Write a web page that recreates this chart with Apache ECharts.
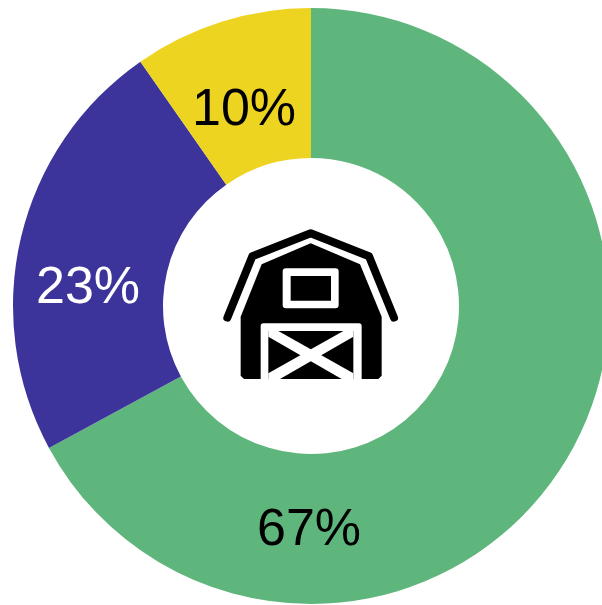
<!DOCTYPE html>
<html>
<head>
<meta charset="utf-8">
<style>
  html, body { margin: 0; padding: 0; background: #fff; }
  #chart { width: 602px; height: 605px; }
</style>
<script src="https://cdn.jsdelivr.net/npm/echarts@6/dist/echarts.min.js"></script>
</head>
<body>
<div id="chart"></div>
<script>
const categories = ['Green', 'Blue', 'Yellow']
const values = [67.1, 23.2, 9.7]
const percentLabels = ['67%', '23%', '10%']
const colors = ['#5fb67c', '#3d349b', '#edd420']
const labelColors = ['#000', '#fff', '#000']
// label centres, they don't sit on the slice mid angle in the original
const labelSpots = [[309, 531], [88, 289], [244, 111]]

const myChart = echarts.init(document.getElementById('chart'))

// barn icon, drawn at 3x and scaled down by the group
const black = { fill: '#000' }
const white = { fill: '#fff' }
const barn = [
  {
    type: 'polyline',
    shape: { points: [[52, 308], [127, 124], [302, 55], [477, 124], [552, 308]] },
    style: { stroke: '#000', fill: null, lineWidth: 24, lineCap: 'round', lineJoin: 'round' }
  },
  {
    type: 'polygon',
    shape: { points: [[302, 85], [450, 148], [515, 305], [515, 482], [505, 492], [102, 492], [92, 482], [92, 305], [155, 148]] },
    style: black
  },
  { type: 'rect', shape: { x: 218, y: 160, width: 168, height: 120, r: 10 }, style: white },
  { type: 'rect', shape: { x: 242, y: 183, width: 121, height: 74 }, style: black },
  { type: 'rect', shape: { x: 152, y: 325, width: 303, height: 167, r: [8, 8, 0, 0] }, style: white },
  { type: 'rect', shape: { x: 175, y: 348, width: 255, height: 144 }, style: black },
  { type: 'polygon', shape: { points: [[175, 348], [205, 348], [430, 475], [430, 492], [395, 492], [175, 365]] }, style: white },
  { type: 'polygon', shape: { points: [[430, 348], [400, 348], [175, 475], [175, 492], [210, 492], [430, 365]] }, style: white }
]

myChart.setOption({
  animation: false,
  series: [{
    type: 'pie',
    center: [311, 306],
    radius: [148, 298],
    startAngle: 90,
    clockwise: true,
    silent: true,
    label: {
      position: 'inside',
      fontFamily: 'Liberation Sans',
      fontSize: 52,
      formatter: p => percentLabels[p.dataIndex]
    },
    labelLine: { show: false },
    labelLayout: p => ({
      x: labelSpots[p.dataIndex][0],
      y: labelSpots[p.dataIndex][1],
      align: 'center',
      verticalAlign: 'middle'
    }),
    data: categories.map((name, i) => ({
      name,
      value: values[i],
      itemStyle: { color: colors[i] },
      label: { color: labelColors[i] }
    }))
  }],
  graphic: [{ type: 'group', x: 210, y: 215, scaleX: 1 / 3, scaleY: 1 / 3, children: barn }]
})
</script>
</body>
</html>
